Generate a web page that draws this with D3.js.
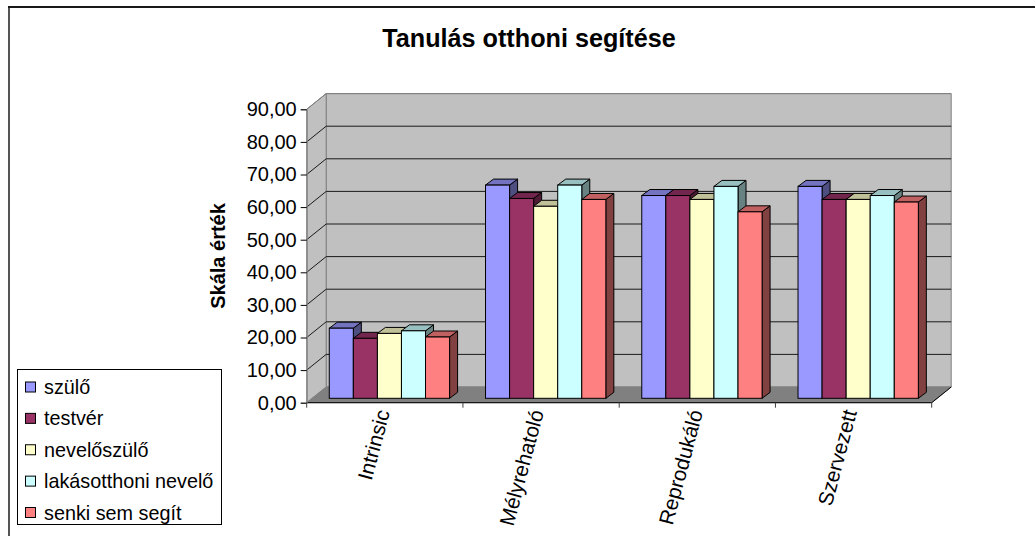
<!DOCTYPE html>
<html>
<head>
<meta charset="utf-8">
<script src="https://cdnjs.cloudflare.com/ajax/libs/d3/7.8.5/d3.min.js"></script>
<style>
    html, body { margin: 0; padding: 0; background: #fff; }
    svg { display: block; }
    text { font-family: "Liberation Sans", Arial, sans-serif; fill: #000; }
</style>
</head>
<body>
<div class="d3-canvas"></div>
<script>
const WIDTH = 1035;
const HEIGHT = 536;

const categories = ['Intrinsic', 'Mélyrehatoló', 'Reprodukáló', 'Szervezett'];
const seriesNames = ['szülő', 'testvér', 'nevelőszülő', 'lakásotthoni nevelő', 'senki sem segít'];
const szulo = [21.5, 65.4, 62.2, 65.0];
const testver = [18.4, 61.3, 62.2, 61.0];
const neveloszulo = [19.9, 58.9, 61.0, 61.0];
const lakasotthoni = [20.7, 65.4, 65.0, 62.2];
const senki = [18.8, 61.0, 57.2, 60.2];
const seriesValues = [szulo, testver, neveloszulo, lakasotthoni, senki];
const colors = ['#9999FF', '#993366', '#FFFFCC', '#CCFFFF', '#FF8080'];
const yTicks = [0, 10, 20, 30, 40, 50, 60, 70, 80, 90];

// Front plane of the 3D box, and how far back the walls go.
const plot = {left: 306.7, right: 931.7, top: 109.3, bottom: 402.7};
const depth = {x: 19.5, y: -15.7};
// Bars stand in the middle of the floor and are thinner than the box.
const barOffset = {x: 4.6, y: -4.4};
const barDepth = {x: 8, y: -6};

const svg = d3.select('.d3-canvas')
    .append('svg')
        .attr('width', WIDTH)
        .attr('height', HEIGHT);

const x = d3.scaleBand()
    .domain(categories)
    .range([plot.left, plot.right])
    .paddingInner(0.23)
    .paddingOuter(0.115);
const xInner = d3.scaleBand()
    .domain(d3.range(seriesNames.length))
    .range([0, x.bandwidth()]);
const y = d3.scaleLinear()
    .domain([0, 90])
    .range([plot.bottom, plot.top]);

const poly = pts => pts.map(p => p.join(',')).join(' ');
const shade = (c, k) => d3.rgb(c).darker(k).formatHex();

// Frame: only top and left are visible in the picture.
svg.append('line')
    .attr('x1', 9).attr('x2', 9)
    .attr('y1', 7).attr('y2', HEIGHT)
    .attr('stroke', '#555')
    .attr('stroke-width', 2);
svg.append('line')
    .attr('x1', 8).attr('x2', WIDTH)
    .attr('y1', 7).attr('y2', 7)
    .attr('stroke', '#1a1a1a')
    .attr('stroke-width', 2);

// Walls and floor.
const walls = svg.append('g');
walls.append('polygon')
    .attr('points', poly([[plot.left + depth.x, plot.top + depth.y], [plot.right + depth.x, plot.top + depth.y],
        [plot.right + depth.x, plot.bottom + depth.y], [plot.left + depth.x, plot.bottom + depth.y]]))
    .attr('fill', '#C0C0C0')
    .attr('stroke', '#808080')
    .attr('stroke-width', 1);
walls.append('polygon')
    .attr('points', poly([[plot.left, plot.top], [plot.left + depth.x, plot.top + depth.y],
        [plot.left + depth.x, plot.bottom + depth.y], [plot.left, plot.bottom]]))
    .attr('fill', '#C0C0C0')
    .attr('stroke', '#808080')
    .attr('stroke-width', 1);
walls.append('polygon')
    .attr('points', poly([[plot.left, plot.bottom], [plot.right, plot.bottom],
        [plot.right + depth.x, plot.bottom + depth.y], [plot.left + depth.x, plot.bottom + depth.y]]))
    .attr('fill', '#808080')
    .attr('stroke', '#808080')
    .attr('stroke-width', 1);

// Gridlines run along the side wall and across the back wall.
walls.selectAll('path.grid')
    .data(yTicks.slice(1))
    .enter()
    .append('path')
        .attr('class', 'grid')
        .attr('d', d => `M${plot.left},${y(d)} L${plot.left + depth.x},${y(d) + depth.y} H${plot.right + depth.x}`)
        .attr('fill', 'none')
        .attr('stroke', d => d === 90 ? '#808080' : '#1a1a1a')
        .attr('stroke-width', 1);

// Right edge of the floor, front edge and axes.
walls.append('path')
    .attr('d', `M${plot.left},${plot.bottom} H${plot.right} L${plot.right + depth.x},${plot.bottom + depth.y}`)
    .attr('fill', 'none')
    .attr('stroke', '#000')
    .attr('stroke-width', 1);

const yAxisGroup = svg.append('g')
    .attr('transform', `translate(${plot.left}, 0)`);
yAxisGroup.call(d3.axisLeft(y)
    .tickValues(yTicks)
    .tickSize(6)
    .tickPadding(4)
    .tickFormat(d => d3.format('.2f')(d).replace('.', ',')));
yAxisGroup.select('.domain').attr('stroke', '#808080');
yAxisGroup.selectAll('.tick line').attr('stroke', '#000');
yAxisGroup.selectAll('text')
    .attr('font-size', 20)
    .attr('font-family', '"Liberation Sans", Arial, sans-serif')
    .attr('fill', '#000');

const xAxisGroup = svg.append('g')
    .attr('transform', `translate(0, ${plot.bottom})`);
const xStep = (plot.right - plot.left) / categories.length;
xAxisGroup.selectAll('line')
    .data(d3.range(categories.length + 1))
    .enter()
    .append('line')
        .attr('x1', d => plot.left + d * xStep)
        .attr('x2', d => plot.left + d * xStep)
        .attr('y1', 0)
        .attr('y2', 5)
        .attr('stroke', '#404040');

// Bars, left to right so each covers the side of the one before it.
const groups = svg.selectAll('g.cat')
    .data(categories)
    .enter()
    .append('g')
        .attr('class', 'cat')
        .attr('transform', d => `translate(${x(d) + barOffset.x}, ${barOffset.y})`);

groups.each(function (cat, ci) {
    const g = d3.select(this);
    seriesValues.forEach((values, si) => {
        const x0 = xInner(si);
        const x1 = x0 + xInner.bandwidth();
        const y0 = y(0);
        const y1 = y(values[ci]);
        g.append('polygon')
            .attr('points', poly([[x1, y0], [x1 + barDepth.x, y0 + barDepth.y], [x1 + barDepth.x, y1 + barDepth.y], [x1, y1]]))
            .attr('fill', shade(colors[si], 1.9))
            .attr('stroke', '#000');
        g.append('polygon')
            .attr('points', poly([[x0, y1], [x0 + barDepth.x, y1 + barDepth.y], [x1 + barDepth.x, y1 + barDepth.y], [x1, y1]]))
            .attr('fill', shade(colors[si], 0.8))
            .attr('stroke', '#000');
        g.append('rect')
            .attr('x', x0)
            .attr('y', y1)
            .attr('width', x1 - x0)
            .attr('height', y0 - y1)
            .attr('fill', colors[si])
            .attr('stroke', '#000');
    });
});

// Slanted category labels, their top end hanging under the axis.
const labelAnchors = [390, 544, 703, 857];
svg.selectAll('text.cat-label')
    .data(categories)
    .enter()
    .append('text')
        .attr('class', 'cat-label')
        .attr('text-anchor', 'end')
        .attr('font-size', 20.8)
        .attr('transform', (d, i) => `translate(${labelAnchors[i]}, 412) rotate(-75)`)
        .text(d => d);

svg.append('text')
    .attr('x', 529)
    .attr('y', 46.5)
    .attr('text-anchor', 'middle')
    .attr('font-size', 25.2)
    .attr('font-weight', 'bold')
    .text('Tanulás otthoni segítése');

svg.append('text')
    .attr('transform', 'translate(225, 256) rotate(-90)')
    .attr('text-anchor', 'middle')
    .attr('font-size', 20)
    .attr('font-weight', 'bold')
    .text('Skála érték');

// Legend.
const legend = svg.append('g');
legend.append('rect')
    .attr('x', 17.5)
    .attr('y', 369.5)
    .attr('width', 204)
    .attr('height', 155)
    .attr('fill', '#fff')
    .attr('stroke', '#000');
const legendY = d3.scalePoint()
    .domain(seriesNames)
    .range([387, 512.5]);
const items = legend.selectAll('g.item')
    .data(seriesNames)
    .enter()
    .append('g')
        .attr('class', 'item')
        .attr('transform', d => `translate(0, ${legendY(d)})`);
items.append('rect')
    .attr('x', 25.5)
    .attr('y', -5)
    .attr('width', 10)
    .attr('height', 10)
    .attr('fill', (d, i) => colors[i])
    .attr('stroke', '#000');
items.append('text')
    .attr('x', 44)
    .attr('y', 7)
    .attr('font-size', 19.8)
    .text(d => d);
</script>
</body>
</html>
